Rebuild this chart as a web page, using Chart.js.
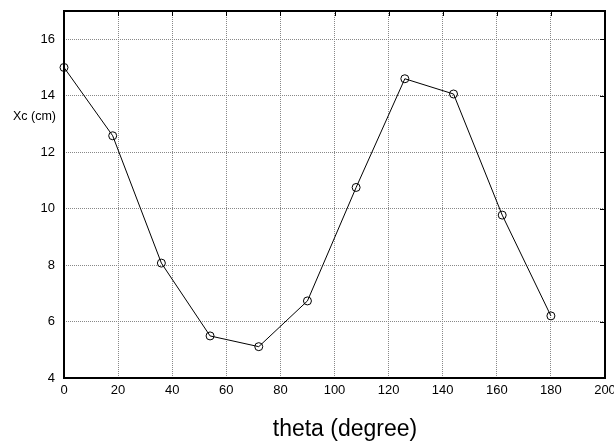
<!DOCTYPE html>
<html>
<head>
<meta charset="utf-8">
<script src="https://cdn.jsdelivr.net/npm/chart.js@4/dist/chart.umd.min.js"></script>
<style>
html,body{margin:0;padding:0;background:#fff;}
canvas{display:block;}
</style>
</head>
<body>
<canvas id="c" width="614" height="443"></canvas>
<script>
// Data
const theta = [0, 18, 36, 54, 72, 90, 108, 126, 144, 162, 180];
const xc = [15.0, 12.58, 8.07, 5.49, 5.11, 6.73, 10.75, 14.6, 14.06, 9.77, 6.2];
const xTitle = 'theta (degree)';
const yTitle = 'Xc (cm)';

const FONT = '"Liberation Sans", Arial, Helvetica, sans-serif';

const framePlugin = {
  id: 'frame',
  afterDraw(chart) {
    const {ctx, chartArea: a, scales} = chart;
    ctx.save();
    ctx.strokeStyle = '#000';
    ctx.lineWidth = 1;
    // inward ticks on top and right
    ctx.beginPath();
    scales.x.ticks.forEach(t => {
      const px = Math.round(scales.x.getPixelForValue(t.value)) + 0.5;
      ctx.moveTo(px, a.top); ctx.lineTo(px, a.top + 5);
    });
    scales.y.ticks.forEach(t => {
      const py = Math.round(scales.y.getPixelForValue(t.value)) + 0.5;
      ctx.moveTo(a.right, py); ctx.lineTo(a.right - 5, py);
    });
    ctx.stroke();
    // frame
    ctx.lineWidth = 2;
    ctx.strokeRect(a.left, a.top, a.right - a.left, a.bottom - a.top);
    // titles
    ctx.fillStyle = '#000';
    ctx.font = '12.5px ' + FONT;
    ctx.textAlign = 'right';
    ctx.textBaseline = 'middle';
    ctx.fillText(yTitle, 56, 117);
    ctx.font = '23px ' + FONT;
    ctx.textAlign = 'center';
    ctx.fillText(xTitle, 345, 430);
    ctx.restore();
  }
};

new Chart(document.getElementById('c'), {
  type: 'scatter',
  data: {
    datasets: [{
      data: theta.map((t, i) => ({x: t, y: xc[i]})),
      showLine: true,
      borderColor: '#000',
      borderWidth: 1,
      pointStyle: 'circle',
      pointRadius: 4,
      pointBorderWidth: 1,
      pointBorderColor: '#000',
      pointBackgroundColor: 'rgba(0,0,0,0)',
      clip: false
    }]
  },
  options: {
    responsive: false,
    animation: false,
    devicePixelRatio: 1,
    layout: {padding: {top: 11, right: 9, left: 0, bottom: 0}},
    plugins: {legend: {display: false}, tooltip: {enabled: false}},
    scales: {
      x: {
        type: 'linear',
        min: 0, max: 200,
        ticks: {stepSize: 20, color: '#000', font: {family: FONT, size: 13}, padding: 5, maxRotation: 0},
        grid: {color: '#888', lineWidth: 1, drawTicks: false},
        border: {display: false, dash: [1, 1]},
        title: {display: false},
        afterFit(s) { s.height = 65; s.paddingLeft = 0; s.paddingRight = 0; }
      },
      y: {
        type: 'linear',
        min: 4, max: 17,
        ticks: {stepSize: 2, includeBounds: false, color: '#000', font: {family: FONT, size: 13}, padding: 9},
        grid: {color: '#888', lineWidth: 1, drawTicks: false},
        border: {display: false, dash: [1, 1]},
        afterFit(s) { s.width = 64; s.paddingTop = 0; s.paddingBottom = 0; }
      }
    }
  },
  plugins: [framePlugin]
});
</script>
</body>
</html>
